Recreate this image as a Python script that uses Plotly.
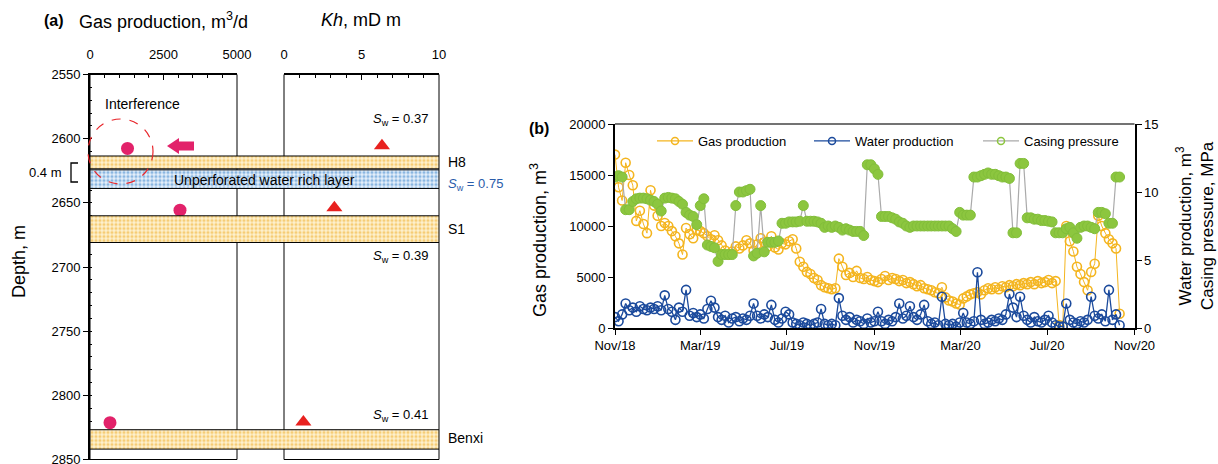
import plotly.graph_objects as go
import pandas as pd

W, H = 1218, 464
def fx(p): return p / W
def fy(p): return 1 - p / H

FONT = "Liberation Sans, Arial, sans-serif"

# ---------------- Panel (a) data ----------------
layer_names = ["H8", "Unperforated water rich layer", "S1", "Benxi"]
layer_top = [2613.5, 2624.3, 2660.1, 2826.8]
layer_bottom = [2623.5, 2638.8, 2680.9, 2841.9]
layer_kind = ["sand", "water", "sand", "sand"]

gas_rate = [1276, 3061, 680]
gas_depth = [2607.6, 2655.7, 2821.3]
kh_value = [6.32, 3.25, 1.25]
kh_depth = [2605.5, 2653.9, 2820.8]
sw_values = ["0.37", "0.39", "0.41"]
sw_water = "0.75"
depth_ticks = [2550, 2600, 2650, 2700, 2750, 2800, 2850]
gas_ticks = [0, 2500, 5000]
kh_ticks = [0, 5, 10]

# ---------------- Panel (b) data (5-day samples from 2018-11-01) ----------------
gas_prod = [
    17000, 13800, 12500, 16200, 15000, 14000, 10500, 11500, 10200, 9300,
    13500, 12000, 11000, 10000, 10300, 10000, 9500, 9000, 8300, 7200,
    9800, 9200, 8800, 9600, 9500, 9300, 9000, 8700, 9100, 8600,
    8100, 7600, 7200, 7500, 8000, 7800, 8100, 8600, 8300, 7600,
    8200, 8800, 8400, 8000, 9000, 7900, 7700, 8300, 8200, 8500,
    8700, 7800, 6500, 6000, 5500, 5300, 4900, 4700, 4200, 4000,
    3900, 3800, 3900, 6800, 6000, 5200, 5400, 5000, 5600, 4900,
    4800, 5000, 4700, 4600, 4500, 4800, 5100, 4700, 4900, 4800,
    4600, 4700, 4400, 4500, 4300, 4100, 4200, 3900, 3800, 3700,
    3500, 3400, 4000, 3000, 2700, 2600, 2400, 2300, 2900, 3100,
    3300, 3400, 3500, 3300, 3700, 3900, 3800, 4000, 3800, 4100,
    4000, 4200, 4100, 4300, 4200, 4400, 4300, 4500, 4300, 4600,
    4400, 4500, 4700, 4400, 4600, 300, 200, 10000, 8500, 7500,
    6000, 5300, 4500, 3700, 5500, 6300, 11000, 10000, 9300, 8700,
    8300, 7800, 1400,
]
water_prod = [
    0.8, 0.5, 1.0, 1.8, 1.3, 1.5, 1.2, 1.6, 1.4, 1.3,
    1.5, 1.4, 1.6, 1.3, 2.4, 1.4, 1.2, 0.6, 1.5, 1.2,
    2.8, 0.9, 1.1, 0.8, 1.0, 0.7, 1.4, 2.0, 1.5, 0.8,
    0.6, 0.9, 0.4, 0.7, 0.8, 0.5, 0.7, 0.6, 0.9, 1.8,
    0.9, 0.7, 1.0, 0.8, 1.7, 0.6, 0.4, 0.7, 1.2, 1.0,
    0.4, 0.3, 0.2, 0.4, 0.3, 0.2, 0.3, 0.4, 1.4, 0.3,
    0.2, 0.3, 0.2, 2.2, 0.9, 0.6, 0.8, 0.4, 0.6, 0.5,
    0.3, 0.7, 0.4, 0.5, 1.2, 0.5, 0.3, 0.6, 0.5, 0.8,
    1.8, 0.7, 0.9, 1.6, 0.8, 0.6, 1.0, 1.7, 0.5, 0.3,
    0.4, 0.2, 2.3, 0.3, 0.2, 0.3, 0.1, 0.4, 1.1, 0.4,
    0.3, 0.5, 4.1, 0.6, 0.3, 0.4, 0.6, 0.5, 0.7, 0.6,
    1.0, 2.5, 1.5, 0.8, 2.3, 0.9, 0.6, 0.4, 0.8, 0.5,
    0.4, 0.6, 0.9, 0.4, 0.2, 0.1, 0.1, 1.8, 0.6, 0.4,
    0.3, 0.5, 0.4, 0.6, 2.3, 0.9, 0.7, 1.0, 0.5, 2.8,
    0.6, 1.0, 0.2,
]
casing_pressure = [
    11.1, 11.2, 11.1, 8.7, 8.7, 9.3, 9.5, 9.55, 9.55, 9.5,
    9.4, 9.3, 9.1, 8.6, 9.55, 9.6, 9.55, 9.5, 9.3, 9.1,
    8.5, 8.3, 8.2, 7.6, 9.0, 9.5, 6.1, 6.0, 5.9, 4.9,
    5.4, 5.4, 5.4, 5.4, 9.0, 10.0, 10.0, 10.1, 10.2, 5.3,
    5.5, 9.0, 5.6, 6.3, 6.3, 6.3, 6.4, 7.7, 7.7, 7.8,
    7.8, 7.8, 7.85, 9.0, 7.85, 7.85, 7.85, 7.8, 7.7, 7.4,
    7.5, 7.4, 7.5, 7.4, 7.2, 7.3, 7.2, 7.1, 7.1, 7.1,
    6.8, 12.0, 12.0, 11.7, 11.3, 8.2, 8.2, 8.2, 8.1, 8.0,
    7.8, 7.7, 7.5, 7.4, 7.5, 7.5, 7.5, 7.5, 7.5, 7.5,
    7.5, 7.5, 7.5, 7.5, 7.5, 7.3, 7.1, 8.5, 8.3, 8.3,
    8.3, 11.1, 11.1, 11.2, 11.3, 11.4, 11.3, 11.3, 11.2, 11.1,
    11.1, 11.0, 7.0, 7.0, 12.1, 12.1, 8.1, 8.1, 8.0, 8.0,
    7.9, 7.9, 7.85, 7.8, 7.0, 7.0, 7.0, 7.3, 7.4, 7.0,
    6.6, 7.4, 7.5, 7.5, 7.4, 7.3, 8.5, 8.5, 8.4, 7.7,
    7.7, 11.1, 11.1,
]
dates = pd.date_range("2018-11-01", periods=len(gas_prod), freq="5D")
series_names = ["Gas production", "Water production", "Casing pressure"]

ORANGE = "#F4B51F"
BLUE = "#1B4A9C"
GREEN = "#8CC63F"
GRAYLINE = "#AAAAAA"
MAGENTA = "#E2226A"
RED = "#E8211F"

fig = go.Figure()

# ----- layers -----
for top, bot, kind in zip(layer_top, layer_bottom, layer_kind):
    if kind == "sand":
        pat = dict(shape=".", fgcolor="#F0A81A", bgcolor="#FDF1D0", size=4, solidity=0.5)
    else:
        pat = dict(shape=".", fgcolor="#2E7BC8", bgcolor="#E6F0FA", size=4, solidity=0.5)
    fig.add_trace(go.Scatter(
        x=[0, 1, 1, 0, 0], y=[top, top, bot, bot, top],
        xaxis="x3", yaxis="y", mode="lines", fill="toself",
        fillpattern=pat, line=dict(color="black", width=1),
        showlegend=False, hoverinfo="skip"))

fig.add_trace(go.Scatter(
    x=gas_rate, y=gas_depth, xaxis="x", yaxis="y", mode="markers",
    marker=dict(symbol="circle", size=13, color=MAGENTA), showlegend=False,
    cliponaxis=False))
fig.add_trace(go.Scatter(
    x=kh_value, y=kh_depth, xaxis="x2", yaxis="y", mode="markers",
    marker=dict(symbol="triangle-up", size=14, color=RED), showlegend=False,
    cliponaxis=False))

# ----- panel b -----
fig.add_trace(go.Scatter(
    x=dates, y=gas_prod, xaxis="x4", yaxis="y3", mode="lines+markers",
    line=dict(color=ORANGE, width=1),
    marker=dict(symbol="circle-open", size=9, color=ORANGE, line=dict(width=1.6)),
    showlegend=False))
fig.add_trace(go.Scatter(
    x=dates, y=water_prod, xaxis="x4", yaxis="y4", mode="lines+markers",
    line=dict(color=BLUE, width=1.3),
    marker=dict(symbol="circle-open", size=9, color=BLUE, line=dict(width=1.6)),
    showlegend=False))
fig.add_trace(go.Scatter(
    x=dates, y=casing_pressure, xaxis="x4", yaxis="y4", mode="lines+markers",
    line=dict(color=GRAYLINE, width=1.2),
    marker=dict(symbol="circle", size=10, color=GREEN, line=dict(width=1, color="#82BE3A")),
    showlegend=False))

# legend entries (one legend each, to place them like the reference)
legend_keys = ["legend", "legend2", "legend3"]
for name, lc, mc, lk in zip(series_names, [ORANGE, BLUE, GRAYLINE], [ORANGE, BLUE, GREEN], legend_keys):
    fig.add_trace(go.Scatter(
        x=[None], y=[None], xaxis="x4", yaxis="y3", mode="lines+markers", name=name,
        legend=lk, line=dict(color=lc, width=1.2),
        marker=dict(symbol="circle-open", size=7, color=mc, line=dict(width=1.5))))

axis_common = dict(showgrid=False, zeroline=False, linecolor="black", automargin=False,
                   tickfont=dict(size=13, color="black", family=FONT))

def legend_at(xp):
    return dict(orientation="h", x=fx(xp), y=fy(141), xanchor="left", yanchor="middle",
                bgcolor="rgba(0,0,0,0)", font=dict(size=13, family=FONT), itemwidth=36)

fig.update_layout(
    width=W, height=H, margin=dict(l=0, r=0, t=0, b=0, autoexpand=False),
    paper_bgcolor="white", plot_bgcolor="rgba(0,0,0,0)",
    font=dict(family=FONT, color="black", size=13),
    xaxis=dict(domain=[fx(90), fx(237)], range=[0, 5000], side="top", anchor="y",
               tickvals=gas_ticks, ticks="inside", ticklen=5, tickcolor="black",
               showline=True, linewidth=2, ticklabelstandoff=8,
               minor=dict(dtick=500, ticks="inside", ticklen=3, tickcolor="black"),
               **axis_common),
    xaxis2=dict(domain=[fx(284), fx(439)], range=[0, 10], side="top", anchor="y",
                tickvals=kh_ticks, ticks="inside", ticklen=5, tickcolor="black",
                showline=True, linewidth=2, ticklabelstandoff=8,
                minor=dict(dtick=1, ticks="inside", ticklen=3, tickcolor="black"),
                **axis_common),
    xaxis3=dict(domain=[fx(90), fx(439)], range=[0, 1], anchor="y", visible=False),
    yaxis=dict(domain=[fy(459.5), fy(74.5)], range=[2850, 2550], anchor="x",
               tickvals=depth_ticks, ticks="outside", ticklen=5, tickcolor="black",
               showline=True, linewidth=2, ticklabeloverflow="allow",
               minor=dict(dtick=10, ticks="inside", ticklen=2, tickcolor="black"),
               **axis_common),
    xaxis4=dict(domain=[fx(615), fx(1134.5)], anchor="y3", type="date",
                range=["2018-11-01", "2020-11-01"], tick0="2018-11-01", dtick="M4",
                tickformat="%b/%y", ticks="outside", ticklen=5, tickcolor="black",
                showline=True, linewidth=1.5, **axis_common),
    yaxis3=dict(domain=[fy(328), fy(124)], anchor="x4", range=[0, 20000], dtick=5000,
                tickformat="d", ticks="outside", ticklen=5, tickcolor="black",
                showline=True, linewidth=2, **axis_common),
    yaxis4=dict(overlaying="y3", side="right", anchor="x4", range=[0, 15], dtick=5,
                tickformat="d", ticks="outside", ticklen=5, tickcolor="black",
                showline=True, linewidth=2, **axis_common),
    legend=legend_at(652),
    legend2=legend_at(809),
    legend3=legend_at(978),
)

shapes = [
    dict(type="rect", xref="x domain", yref="y domain", x0=0, x1=1, y0=0, y1=1,
         line=dict(color="black", width=1), layer="below"),
    dict(type="rect", xref="x2 domain", yref="y domain", x0=0, x1=1, y0=0, y1=1,
         line=dict(color="black", width=1), layer="below"),
    dict(type="line", xref="x4 domain", yref="y3 domain", x0=0, x1=1, y0=1, y1=1,
         line=dict(color="#444444", width=1.5)),
    dict(type="circle", xref="paper", yref="paper", x0=fx(88), x1=fx(153), y0=fy(184), y1=fy(119),
         line=dict(color="#E8262B", width=1.2, dash="dash")),
    dict(type="path", xref="paper", yref="paper",
         path=(f"M {fx(167)} {fy(146)} L {fx(179)} {fy(138)} L {fx(179)} {fy(141.5)} "
               f"L {fx(194)} {fy(141.5)} L {fx(194)} {fy(150.5)} L {fx(179)} {fy(150.5)} "
               f"L {fx(179)} {fy(154)} Z"),
         fillcolor=MAGENTA, line=dict(width=0)),
    dict(type="path", xref="paper", yref="paper",
         path=(f"M {fx(78)} {fy(163)} L {fx(71)} {fy(163)} L {fx(71)} {fy(182)} L {fx(78)} {fy(182)}"),
         line=dict(color="black", width=1.3)),
]
fig.update_layout(shapes=shapes)

def ann(text, x, y, size=13, xanchor="center", color="black", angle=0):
    return dict(text=text, x=fx(x), y=fy(y), xref="paper", yref="paper", showarrow=False,
                xanchor=xanchor, yanchor="middle", textangle=angle,
                font=dict(size=size, color=color, family=FONT))

annotations = [
    ann("<b>(a)</b>", 54, 20, 16),
    ann("Gas production, m<sup>3</sup>/d", 163, 20, 18),
    ann("<i>Kh</i>, mD m", 361, 20, 18),
    ann("Interference", 142, 104, 14),
    ann("0.4 m", 64, 172, 13, xanchor="right"),
    ann(layer_names[1], 264, 180, 14),
    ann(layer_names[0], 446, 162, 14, xanchor="left"),
    ann(layer_names[2], 446, 229, 14, xanchor="left"),
    ann(layer_names[3], 446, 438, 14, xanchor="left"),
    ann(f"<i>S</i><sub>w</sub> = {sw_water}", 446, 184, 13, xanchor="left", color="#2A5CAA"),
    ann(f"<i>S</i><sub>w</sub> = {sw_values[0]}", 430, 119, 13, xanchor="right"),
    ann(f"<i>S</i><sub>w</sub> = {sw_values[1]}", 430, 256, 13, xanchor="right"),
    ann(f"<i>S</i><sub>w</sub> = {sw_values[2]}", 430, 415, 13, xanchor="right"),
    ann("Depth, m", 19, 262, 18, angle=-90),
    ann("<b>(b)</b>", 539, 129, 16),
    ann("Gas production, m<sup>3</sup>", 538, 240, 18, angle=-90),
    ann("Water production, m<sup>3</sup><br>Casing pressure, MPa", 1195, 226, 17, angle=-90),
]
fig.update_layout(annotations=annotations)

fig.write_html("out.html")
